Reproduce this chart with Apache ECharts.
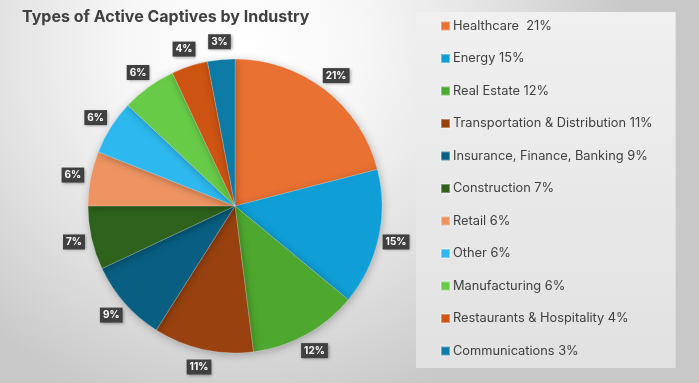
<!DOCTYPE html>
<html>
<head>
<meta charset="utf-8">
<script src="https://cdn.jsdelivr.net/npm/echarts@6/dist/echarts.min.js"></script>
<style>
html,body{margin:0;padding:0;background:#fff;}
#chart{width:699px;height:383px;}
</style>
</head>
<body>
<div id="chart"></div>
<script>
const categories = ['Healthcare', 'Energy', 'Real Estate', 'Transportation & Distribution', 'Insurance, Finance, Banking', 'Construction', 'Retail', 'Other', 'Manufacturing', 'Restaurants & Hospitality', 'Communications'];
const values = [21, 15, 12, 11, 9, 7, 6, 6, 6, 4, 3];
const legendLabels = ['Healthcare  21%', 'Energy 15%', 'Real Estate 12%', 'Transportation & Distribution 11%', 'Insurance, Finance, Banking 9%', 'Construction 7%', 'Retail 6%', 'Other 6%', 'Manufacturing 6%', 'Restaurants & Hospitality 4%', 'Communications 3%'];
const colors = ['#E97132', '#0F9ED5', '#4EA72E', '#99420F', '#085F82', '#2F621D', '#EE9462', '#2DB9EF', '#68CB47', '#CD5413', '#0E7BA7'];

const chart = echarts.init(document.getElementById('chart'), null, {renderer: 'canvas'});
const FONT = 'Inter, "Open Sans", sans-serif';
const pieData = categories.map((c, i) => ({name: c, value: values[i]}));
const option = {
  animation: false,
  backgroundColor: {
    type: 'radial', x: 0.35, y: 0.12, r: 1.0,
    colorStops: [{offset: 0, color: '#ffffff'}, {offset: 0.3, color: '#f7f7f7'}, {offset: 0.65, color: '#e2e2e2'}, {offset: 1, color: '#c8c8c8'}]
  },
  color: colors,
  title: {
    text: 'Types of Active Captives by Industry',
    left: 17, top: 4,
    textStyle: {fontFamily: FONT, fontSize: 16, fontWeight: 'bold', color: '#404040'}
  },
  legend: {
    orient: 'vertical',
    left: 416, top: 12,
    padding: [6, 23, 9, 24],
    backgroundColor: {
      type: 'linear', x: 0, y: 0, x2: 0, y2: 1,
      colorStops: [{offset: 0, color: '#f0f0f0'}, {offset: 1, color: '#e1e1e1'}]
    },
    width: 212,
    itemWidth: 9, itemHeight: 9, itemGap: 16.5,
    icon: 'rect',
    data: categories,
    formatter: function (name) { return legendLabels[categories.indexOf(name)]; },
    textStyle: {fontFamily: FONT, fontSize: 12.8, color: '#404040', lineHeight: 16, padding: [0, 0, 0, -2]}
  },
  series: [{
    type: 'pie',
    center: [235, 206],
    radius: 147,
    startAngle: 90,
    clockwise: true,
    itemStyle: {borderColor: 'rgba(255,255,255,0.35)', borderWidth: 0.6, shadowBlur: 8, shadowColor: 'rgba(0,0,0,0.25)', shadowOffsetX: 1, shadowOffsetY: 2},
    label: {show: false},
    labelLine: {show: false},
    emphasis: {disabled: true},
    data: pieData
  }, {
    type: 'pie',
    center: [235, 206],
    radius: [148, 176],
    startAngle: 90,
    clockwise: true,
    silent: true,
    itemStyle: {color: 'rgba(0,0,0,0)', borderWidth: 0},
    label: {
      show: true, position: 'inside',
      formatter: '{c}%',
      color: '#ffffff', fontFamily: FONT, fontSize: 10, fontWeight: 'bold',
      backgroundColor: '#404040', padding: [3, 3, 2, 3],
      shadowBlur: 3, shadowColor: 'rgba(0,0,0,0.4)', shadowOffsetX: 1, shadowOffsetY: 1
    },
    labelLine: {show: false},
    emphasis: {disabled: true},
    data: pieData
  }]
};
chart.setOption(option);
</script>
</body>
</html>
